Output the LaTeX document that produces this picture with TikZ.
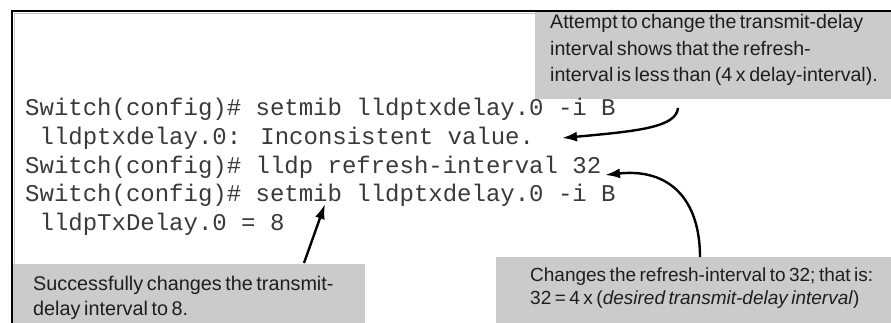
\documentclass[tikz,border=0pt]{standalone}
\usepackage{fontspec}
\setmainfont[WordSpace=0.66]{Liberation Sans}
\newfontfamily\termfont{Liberation Mono}
\usetikzlibrary{arrows.meta}
\definecolor{calloutgray}{HTML}{CBCBCB}
\definecolor{termink}{HTML}{3A3A3A}
\definecolor{noteink}{HTML}{1E1E1E}
\begin{document}
\begin{tikzpicture}[x=1pt,y=-1pt,
  termline/.style={anchor=base west, inner sep=0pt,
    font=\termfont\fontsize{24}{28}\selectfont, text=termink},
  calloutbox/.style={fill=calloutgray, draw=none, anchor=north west,
    inner sep=0pt},
  callouttext/.style={anchor=north west, inner sep=0pt, align=left,
    text=noteink},
  pointer/.style={line width=2.4pt, draw=black,
    -{Latex[length=15pt,width=10pt]}}
]
\useasboundingbox (0,0) rectangle (891,323);
\fill[white] (0,0) rectangle (891,323);

% grey callout panels
\node[calloutbox, minimum width=356pt, minimum height=87pt] (boxA) at (535,12) {};
\node[calloutbox, minimum width=352pt, minimum height=59pt] (boxB) at (13,264) {};
\node[calloutbox, minimum width=395pt, minimum height=66pt] (boxC) at (496,257) {};

% open frame: top and left edges only
\draw[gray!45, line width=1pt] (14.5,323) -- (14.5,13.5) -- (891,13.5);
\draw[line width=2.6pt] (12,323) -- (12,11) -- (891,11);

% console session
\node[termline] (l1) at (25,116) {Switch(config)\# setmib lldptxdelay.0 -i B};
\node[termline] (l2) at (25,145) {\ lldptxdelay.0: Inconsistent value.};
\node[termline] (l3) at (25,174) {Switch(config)\# lldp refresh-interval 32};
\node[termline] (l4) at (25,202) {Switch(config)\# setmib lldptxdelay.0 -i B};
\node[termline] (l5) at (25,230) {\ lldpTxDelay.0 = 8};

% callout texts
\node[callouttext, font=\fontsize{19.6}{26.5}\selectfont] (tA) at (550,14.5)
  {Attempt to change the transmit-delay\\
   interval shows that the refresh-\\
   interval is less than (4 x delay-interval).};
\node[callouttext, font=\fontsize{19.8}{25}\selectfont] (tB) at (33,276)
  {Successfully changes the transmit-\\
   delay interval to 8.};
\node[callouttext, font=\fontsize{19}{23}\selectfont] (tC) at (530,268)
  {Changes the refresh-interval to 32; that is:\\
   32 = 4 x (\textit{desired transmit-delay interval})};

% pointers
\coordinate (pA) at (678,108);
\coordinate (pAtip) at (562,138);
\coordinate (pB) at (304,263);
\coordinate (pBtip) at (325,204);
\coordinate (pC) at (700,257);
\coordinate (pCtip) at (605,175);
\draw[pointer] (pA) .. controls (676,127) and (640,131) .. (pAtip);
\draw[pointer] (pB) -- (pBtip);
\draw[pointer] (pC) .. controls (700,200) and (670,168) .. (pCtip);
\end{tikzpicture}
\end{document}
